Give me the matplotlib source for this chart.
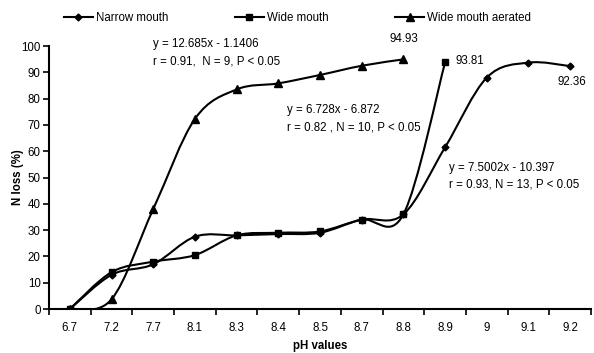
import numpy as np
import matplotlib
matplotlib.use("Agg")
import matplotlib.pyplot as plt
from matplotlib.path import Path
from matplotlib.patches import PathPatch
from matplotlib.lines import Line2D

plt.rcParams['font.family'] = ['Liberation Sans', 'DejaVu Sans']

ph_values = ['6.7', '7.2', '7.7', '8.1', '8.3', '8.4', '8.5', '8.7', '8.8', '8.9', '9', '9.1', '9.2']
narrow_mouth = [0, 13, 17, 27.5, 28, 28.5, 29, 34, 36, 61.5, 88, 93.7, 92.36]
wide_mouth = [0, 14, 18, 20.5, 28, 29, 29.5, 34, 36, 93.81]
wide_aerated = [0, 3.7, 38, 72.3, 83.5, 85.8, 89, 92.5, 94.93]


def smooth_path(ys):
    # Excel style smoothed line: Catmull-Rom turned into cubic Bezier segments
    pts = np.column_stack([np.arange(len(ys)), ys]).astype(float)
    verts = [pts[0]]
    codes = [Path.MOVETO]
    n = len(pts)
    for i in range(n - 1):
        p0 = pts[max(i - 1, 0)]
        p1 = pts[i]
        p2 = pts[i + 1]
        p3 = pts[min(i + 2, n - 1)]
        c1 = p1 + (p2 - p0) / 6.0
        c2 = p2 - (p3 - p1) / 6.0
        verts += [c1, c2, p2]
        codes += [Path.CURVE4] * 3
    return Path(verts, codes)


fig = plt.figure(figsize=(5.94, 3.53), dpi=100)
ax = fig.add_axes([0.0825, 0.1246, 0.9125, 0.745])

series = [
    (narrow_mouth, 'D', 3.5, 'Narrow mouth'),
    (wide_mouth, 's', 4.5, 'Wide mouth'),
    (wide_aerated, '^', 5.5, 'Wide mouth aerated'),
]
for ys, mk, ms, lab in series:
    ax.add_patch(PathPatch(smooth_path(ys), fill=False, edgecolor='black', lw=1.5, zorder=2))
    ax.plot(range(len(ys)), ys, linestyle='none', marker=mk, ms=ms, color='black', zorder=3)

ax.set_xlim(-0.5, len(ph_values) - 0.5)
ax.set_ylim(0, 100)
ax.spines['top'].set_visible(False)
ax.spines['right'].set_visible(False)
ax.spines['left'].set_linewidth(1.5)
ax.spines['bottom'].set_linewidth(1.5)

ax.set_xticks(np.arange(-0.5, len(ph_values), 1.0))
ax.set_xticklabels([])
ax.set_xticks(np.arange(len(ph_values)), minor=True)
ax.set_xticklabels(ph_values, minor=True)
ax.tick_params(axis='x', which='major', length=4, width=1.2, direction='out')
ax.tick_params(axis='x', which='minor', length=0, pad=9, labelsize=8.3)
ax.set_yticks(np.arange(0, 101, 10))
ax.tick_params(axis='y', length=4, width=1.2, direction='out', labelsize=8.3, pad=2)

ax.set_xlabel('pH values', fontsize=8.3, fontweight='bold', labelpad=5)
ax.set_ylabel('N loss (%)', fontsize=8.3, fontweight='bold')
ax.yaxis.set_label_coords(-0.047, 0.5)

fs = 8.3
ax.text(2.0, 97.5, 'y = 12.685x - 1.1406\nr = 0.91,  N = 9, P < 0.05', fontsize=fs,
        va='center', ha='left', linespacing=1.6)
ax.text(5.2, 72.5, 'y = 6.728x - 6.872\nr = 0.82 , N = 10, P < 0.05', fontsize=fs,
        va='center', ha='left', linespacing=1.6)
ax.text(9.1, 50.5, 'y = 7.5002x - 10.397\nr = 0.93, N = 13, P < 0.05', fontsize=fs,
        va='center', ha='left', linespacing=1.6)
ax.text(8.0, 102.5, '94.93', fontsize=fs, va='center', ha='center', clip_on=False)
ax.text(9.25, 94.2, '93.81', fontsize=fs, va='center', ha='left')
ax.text(11.7, 86.5, '92.36', fontsize=fs, va='center', ha='left')

handles = [Line2D([], [], color='black', lw=1.5, marker=mk, ms=ms) for _, mk, ms, _ in series]
fig.legend(handles, [s[3] for s in series], loc='center left', bbox_to_anchor=(0.1077, 0.948),
           ncol=3, frameon=False, fontsize=fs, handlelength=2.5, handletextpad=0.25,
           columnspacing=5.8, borderpad=0, borderaxespad=0)

fig.savefig('out.png', dpi=100)
